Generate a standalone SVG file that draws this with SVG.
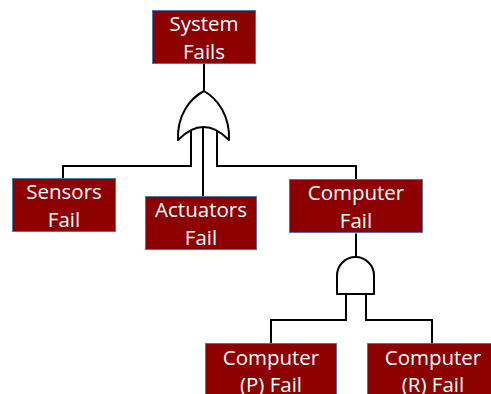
<svg xmlns="http://www.w3.org/2000/svg" width="491" height="394" viewBox="0 0 491 394">
  <style>
    .box { fill: #8c0000; stroke: #4a76a8; stroke-width: 1; }
    .lbl { fill: #ffffff; font-family: "Open Sans", "Liberation Sans", sans-serif; font-size: 20.5px; text-anchor: middle; }
    .wire { fill: none; stroke: #000000; stroke-width: 2; }
    .gate { fill: #ffffff; stroke: #000000; stroke-width: 2; stroke-linejoin: round; }
  </style>
  <rect width="491" height="394" fill="#ffffff"/>

  <!-- connectors -->
  <g id="connectors">
    <line class="wire" x1="204" y1="64" x2="204" y2="91"/>
    <polyline class="wire" points="191,131 191,166 63,166 63,178"/>
    <line class="wire" x1="203" y1="128" x2="203" y2="196"/>
    <polyline class="wire" points="217,131 217,166 356,166 356,179"/>
    <line class="wire" x1="356" y1="233.5" x2="356" y2="257"/>
    <polyline class="wire" points="346,294 346,320 271,320 271,343"/>
    <polyline class="wire" points="366,294 366,320 432,320 432,343"/>
  </g>

  <!-- OR gate -->
  <g id="or-gate">
    <path class="gate" d="M178,140 C177,116 189,99 204,91 C218,99 230,116 229,140 Q203.5,114 178,140 Z"/>
    <line class="wire" x1="191" y1="131" x2="191" y2="140"/>
    <line class="wire" x1="217" y1="131" x2="217" y2="140"/>
  </g>

  <!-- AND gate -->
  <g id="and-gate">
    <path class="gate" d="M337,294 L337,275.5 A18.5,18.5 0 0 1 374,275.5 L374,294 Z"/>
  </g>

  <g id="system-fails">
    <rect class="box" x="152.5" y="10.5" width="103" height="53"/>
    <text class="lbl" x="204" y="31">System</text>
    <text class="lbl" x="204" y="58.5">Fails</text>
  </g>

  <g id="sensors-fail">
    <rect class="box" x="12.5" y="178.5" width="103" height="53"/>
    <text class="lbl" x="64" y="199">Sensors</text>
    <text class="lbl" x="64" y="226.5">Fail</text>
  </g>

  <g id="actuators-fail">
    <rect class="box" x="145.5" y="196.5" width="111" height="53"/>
    <text class="lbl" x="201" y="217">Actuators</text>
    <text class="lbl" x="201" y="244.5">Fail</text>
  </g>

  <g id="computer-fail">
    <rect class="box" x="289.5" y="179.5" width="133" height="53"/>
    <text class="lbl" x="356" y="200">Computer</text>
    <text class="lbl" x="356" y="227.5">Fail</text>
  </g>

  <g id="computer-p-fail">
    <rect class="box" x="205.5" y="343.5" width="131" height="54"/>
    <text class="lbl" x="271" y="365">Computer</text>
    <text class="lbl" x="271" y="391.5">(P) Fail</text>
  </g>

  <g id="computer-r-fail">
    <rect class="box" x="367.5" y="343.5" width="131" height="54"/>
    <text class="lbl" x="433" y="365">Computer</text>
    <text class="lbl" x="433" y="391.5">(R) Fail</text>
  </g>
</svg>
